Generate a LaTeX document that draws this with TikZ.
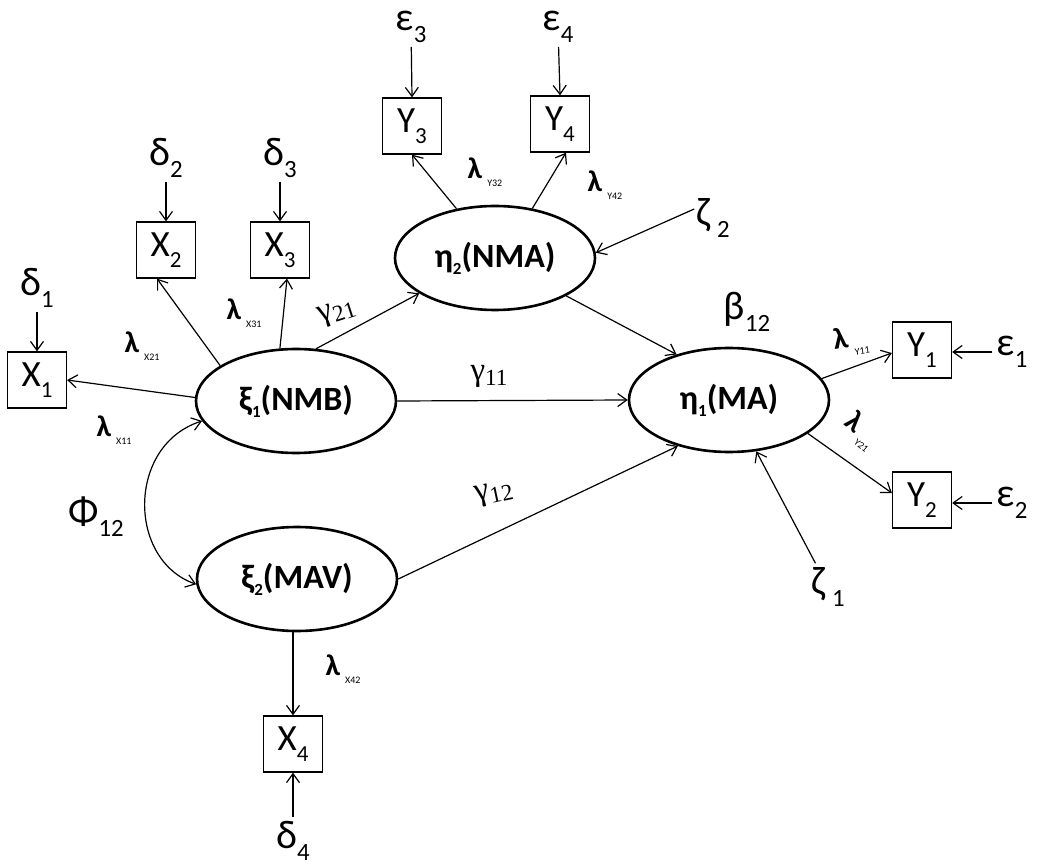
\documentclass[tikz,border=0pt]{standalone}
\usepackage{fontspec}
\setmainfont{Carlito}
\newfontfamily\gfont{Liberation Serif}
\usetikzlibrary{arrows.meta,shapes.geometric,calc}
\newcommand{\sbs}[1]{\raisebox{-0.3em}{\scalebox{0.62}{#1}}}
\newcommand{\esbs}[1]{\raisebox{-0.2em}{\scalebox{0.5}{#1}}}
\newcommand{\lsub}[1]{\textbf{λ}\,\raisebox{-0.28em}{\fontsize{10}{10}\selectfont #1}}
\newcommand{\gsub}[2]{{\gfont #1\raisebox{-0.15em}{\scalebox{0.7}{#2}}}}
\begin{document}
\begin{tikzpicture}[x=1pt,y=-1pt,
  lat/.style={ellipse, draw, line width=2.6pt, minimum width=200pt, minimum height=104pt, font=\fontsize{34}{36}\selectfont\bfseries, inner sep=0pt},
  obs/.style={rectangle, draw, line width=1.3pt, minimum width=59pt, minimum height=56pt, font=\fontsize{37}{40}\selectfont, inner sep=0pt},
  err/.style={font=\fontsize{40}{42}\selectfont, inner sep=4pt},
  arr/.style={-{Straight Barb[length=9pt,width=13pt]}, line width=1.2pt},
  dar/.style={{Straight Barb[length=9pt,width=13pt]}-{Straight Barb[length=9pt,width=13pt]}, line width=1.2pt},
  lab/.style={font=\fontsize{30}{32}\selectfont, inner sep=0pt},
  glab/.style={font=\fontsize{33}{35}\selectfont, inner sep=0pt},
]
\useasboundingbox (0,0) rectangle (1039,866);

% observed
\node[obs] (x1) at (37,380) {X\sbs{1}};
\node[obs] (x2) at (166,250) {X\sbs{2}};
\node[obs] (x3) at (280,250) {X\sbs{3}};
\node[obs] (x4) at (293,744) {X\sbs{4}};
\node[obs] (y3) at (412,126) {Y\sbs{3}};
\node[obs] (y4) at (560,124) {Y\sbs{4}};
\node[obs] (y1) at (922,350) {Y\sbs{1}};
\node[obs] (y2) at (922,500) {Y\sbs{2}};

% latent
\node[lat] (xi1) at (296,401) {ξ\esbs{1}(NMB)};
\node[lat] (xi2) at (297,579) {ξ\esbs{2}(MAV)};
\node[lat] (eta2) at (495,258) {η\esbs{2}(NMA)};
\node[lat] (eta1) at (729,400) {η\esbs{1}(MA)};

% errors
\node[err] (d1) at (37,288) {δ\sbs{1}};
\node[err] (d2) at (166,158) {δ\sbs{2}};
\node[err] (d3) at (280,158) {δ\sbs{3}};
\node[err] (d4) at (293,841) {δ\sbs{4}};
\node[err] (e3) at (411,27) {ε\sbs{3}};
\node[err] (e4) at (558,27) {ε\sbs{4}};
\node[err] (e1) at (1012,352) {ε\sbs{1}};
\node[err] (e2) at (1012,503) {ε\sbs{2}};
\node[err] (z2) at (713,218) {ζ\,\sbs{2}};
\node[err] (z1) at (828,587) {ζ\,\sbs{1}};

% error arrows
\draw[arr] (d1) -- (x1.north);
\draw[arr] (d2) -- (x2.north);
\draw[arr] (d3) -- (x3.north);
\draw[arr] (d4) -- (x4.south);
\draw[arr] (e3) -- (y3.north);
\draw[arr] (e4) -- (y4.north);
\draw[arr] (e1.west) -- (e1.west -| y1.east);
\draw[arr] (e2.west) -- (e2.west -| y2.east);
\draw[arr] ($(z2.west)+(2,-9)$) -- (eta2.3);
\draw[arr] (z1) -- (eta1.-62);

% loadings
\draw[arr] (xi1.178) -- (x1.east);
\draw[arr] (xi1.155) -- ($(x2.south)+(-9,0)$);
\draw[arr] (xi1.107) -- ($(x3.south)+(7,0)$);
\draw[arr] (xi2.south -| x4.north) -- (x4.north);
\draw[arr] (eta2.128) -- (y3.south);
\draw[arr] (eta2.53) -- ($(y4.south)+(6,0)$);
\draw[arr] (eta1.13) -- ($(y1.west)+(0,3)$);
\draw[arr] (eta1.-23) -- ($(y2.west)+(0,-7)$);

% structural
\draw[arr] (xi1.69) -- (eta2.205);
\draw[arr] (xi1.east) -- (eta1.west);
\draw[arr] (xi2.east) -- (eta1.222);
\draw[arr] (eta2.-28) -- (eta1.139);
\draw[dar] (xi1.192) .. controls (127,445) and (127,560) .. (xi2.183);

% labels
\node[lab] (lx21) at (142,346) {\lsub{X21}};
\node[lab] (lx31) at (244,313) {\lsub{X31}};
\node[lab] (lx11) at (114,430) {\lsub{X11}};
\node[lab] (lx42) at (343,669) {\lsub{X42}};
\node[lab] (ly32) at (485,172) {\lsub{Y32}};
\node[lab] (ly42) at (605,185) {\lsub{Y42}};
\node[lab, rotate=8] (ly11) at (851,341) {\lsub{Y11}};
\node[lab, rotate=-40] (ly21) at (861,431) {\lsub{Y21}};
\node[glab, rotate=18] (g21) at (337,313) {\gsub{γ}{21}};
\node[glab] (g11) at (489,376) {\gsub{γ}{11}};
\node[glab, rotate=12] (g12) at (494,494) {\gsub{γ}{12}};
\node[err, inner sep=0pt] (b12) at (747,312) {β\sbs{12}};
\node[err, inner sep=0pt] (phi) at (96,517) {Φ\sbs{12}};
\end{tikzpicture}
\end{document}
